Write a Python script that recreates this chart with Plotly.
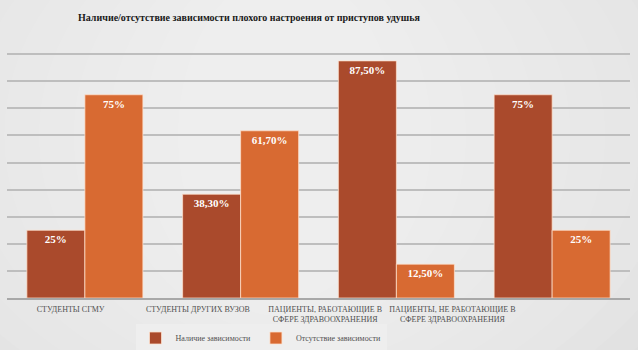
import plotly.graph_objects as go

categories = [
    "СТУДЕНТЫ СГМУ",
    "СТУДЕНТЫ ДРУГИХ ВУЗОВ",
    "ПАЦИЕНТЫ, РАБОТАЮЩИЕ В<br>СФЕРЕ ЗДРАВООХРАНЕНИЯ",
    "ПАЦИЕНТЫ, НЕ РАБОТАЮЩИЕ В<br>СФЕРЕ ЗДРАВООХРАНЕНИЯ",
]
series_names = ["Наличие зависимости", "Отсутствие зависимости"]
presence = [25, 38.3, 87.5, 75]
absence = [75, 61.7, 12.5, 25]
colors = ["#AA4A2C", "#D86A32"]

SERIF = "Liberation Serif"


def fmt(v):
    if float(v).is_integer():
        return f"{int(v)}%"
    return f"{v:.2f}".replace(".", ",") + "%"


fig = go.Figure()
slots = list(range(len(categories)))
for name, vals, col in zip(series_names, [presence, absence], colors):
    fig.add_trace(go.Bar(
        name=name,
        x=slots,
        y=vals,
        text=[fmt(v) for v in vals],
        textposition="inside",
        insidetextanchor="end",
        textangle=0,
        constraintext="none",
        textfont=dict(family=SERIF, size=11, color="white", weight="bold"),
        marker=dict(color=col, line=dict(color="rgba(255,225,205,0.75)", width=1)),
        hoverinfo="skip",
    ))

# carrier trace for the category label axis (its own, narrower x domain)
fig.add_trace(go.Scatter(
    x=categories, y=[0] * len(categories), xaxis="x2", yaxis="y2", mode="none",
    showlegend=False, hoverinfo="skip",
))

# soft radial lightening of the grey background
shapes = []
steps = 14
for i in range(steps):
    f = i / steps
    shapes.append(dict(
        type="circle", xref="paper", yref="paper", layer="below",
        x0=-0.45 + 0.78 * f, x1=1.35 - 0.78 * f,
        y0=-0.8 + 0.85 * f, y1=2.0 - 0.85 * f,
        fillcolor="rgba(255,255,255,0.075)", line=dict(width=0),
    ))

fig.update_layout(
    width=638, height=350,
    margin=dict(l=7, r=8, t=27, b=52, autoexpand=False),
    paper_bgcolor="#DADADA",
    plot_bgcolor="rgba(0,0,0,0)",
    font=dict(family=SERIF),
    barmode="group",
    bargap=0.255,
    bargroupgap=0,
    shapes=shapes,
    title=dict(
        text="<b>Наличие/отсутствие зависимости плохого настроения от приступов удушья</b>",
        font=dict(family=SERIF, size=10, color="#1A1A1A"),
        x=249 / 638, xanchor="center", xref="container",
        y=1 - 17 / 350, yanchor="middle", yref="container",
    ),
    xaxis=dict(
        range=[-0.5, 3.5], showticklabels=False, showgrid=False,
        showline=True, linecolor="#A8A8A8", linewidth=2, zeroline=False,
        fixedrange=True, automargin=False,
    ),
    xaxis2=dict(
        type="category", categoryarray=categories, range=[-0.5, 3.5],
        domain=[0, (516 - 7) / 623], anchor="y2", side="bottom",
        showgrid=False, showline=False, zeroline=False, ticks="",
        tickangle=0, automargin=False, fixedrange=True,
        tickfont=dict(family=SERIF, size=8, color="#505050"),
        ticklabelstandoff=5,
    ),
    yaxis=dict(
        range=[0, 100], dtick=10, showticklabels=False,
        gridcolor="#BEBEBE", gridwidth=1.5, zeroline=False, fixedrange=True,
        automargin=False,
    ),
    yaxis2=dict(
        range=[0, 100], domain=[0, 1], anchor="x2", visible=False,
        showgrid=False, zeroline=False, fixedrange=True,
    ),
    legend=dict(
        orientation="h", x=(261 - 7) / 623, xanchor="center",
        y=-(338 - 298) / 271, yanchor="middle",
        bgcolor="rgba(238,238,238,0.9)",
        font=dict(family=SERIF, size=8, color="#505050"),
        tracegroupgap=0,
    ),
    showlegend=True,
)

fig.write_html("out.html")
